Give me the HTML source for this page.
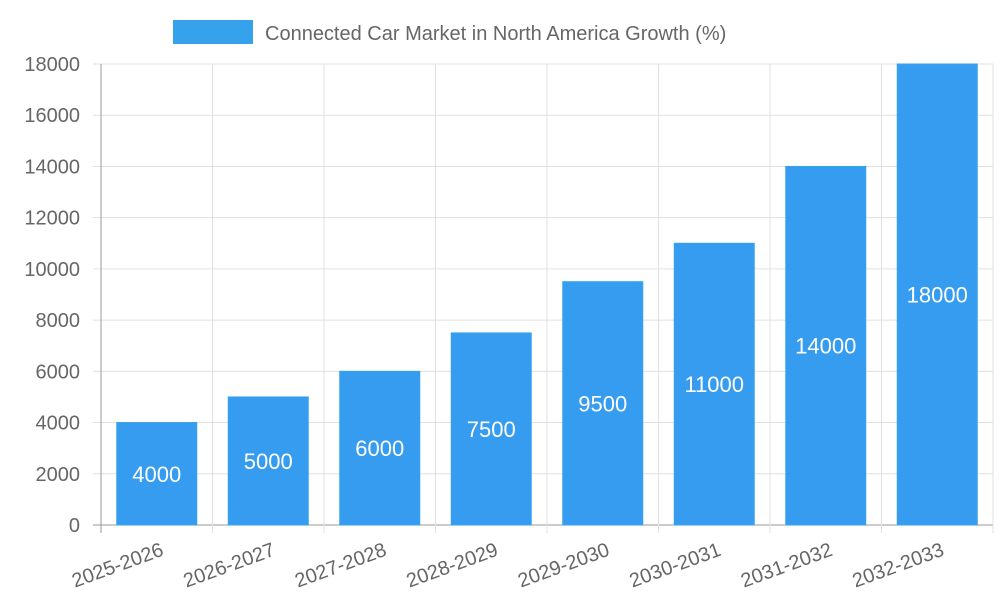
<!DOCTYPE html>
<html><head><meta charset="utf-8"><style>
html,body{margin:0;padding:0;background:#fff;}
svg{display:block;font-family:"Liberation Sans",Arial,sans-serif;}
</style></head><body>
<svg id="chart" width="1000" height="600" viewBox="0 0 1000 600" xmlns="http://www.w3.org/2000/svg">
<g id="legend">
<rect x="173" y="20" width="80" height="24" fill="#36a2eb"/>
<text x="265" y="40" font-size="20" fill="#666">Connected Car Market in North America Growth (%)</text>
</g>
<g id="grid"></g><g id="bars"></g><g id="axes"></g>
</svg>
<script>
const categories=["2025-2026","2026-2027","2027-2028","2028-2029","2029-2030","2030-2031","2031-2032","2032-2033"];
const values=[4000,5000,6000,7500,9500,11000,14000,18000];
const yTicks=[0,2000,4000,6000,8000,10000,12000,14000,16000,18000];
const NS="http://www.w3.org/2000/svg";
const L=101,R=993,T=64,B=525,yMax=18000;
const band=(R-L)/categories.length;
const y=v=>B-(v/yMax)*(B-T);
const x=i=>L+band*i;
function mk(tag,attrs,parent,txt){const e=document.createElementNS(NS,tag);for(const k in attrs)e.setAttribute(k,attrs[k]);if(txt!==undefined)e.textContent=txt;parent.appendChild(e);return e;}
const grid=document.getElementById('grid'),bars=document.getElementById('bars'),axes=document.getElementById('axes');
yTicks.forEach(t=>{
 const ln=mk('line',{x1:L-8,x2:R,y1:y(t),y2:y(t),stroke:t===0?'#999':'#e0e0e0','stroke-width':1},grid);
 
 
 const tx=mk('text',{x:80,y:y(t)+7,'text-anchor':'end','font-size':20,fill:'#666'},axes,String(t));
 
 
});
for(let i=0;i<=categories.length;i++){
 const ln=mk('line',{x1:x(i),x2:x(i),y1:T,y2:B+8,stroke:i===0?'#999':'#e0e0e0','stroke-width':1},grid);
 
 
}
categories.forEach((c,i)=>{
 const cx=x(i)+band/2,w=80,v=values[i];
 const r=mk('rect',{x:cx-w/2,y:y(v),width:w,height:B-y(v),fill:'#369cf0',stroke:'#36a2eb'},bars);
 
 
 const vt=mk('text',{x:cx,y:(y(v)+B)/2+8,'text-anchor':'middle','font-size':22,fill:'#fff'},bars,String(v));
 
 
 const lt=mk('text',{x:cx+8,y:B+30,'text-anchor':'end','font-size':20,fill:'#666',transform:`rotate(-20 ${cx+8} ${B+30})`},axes,c);
 
 
});
</script>
</body></html>
